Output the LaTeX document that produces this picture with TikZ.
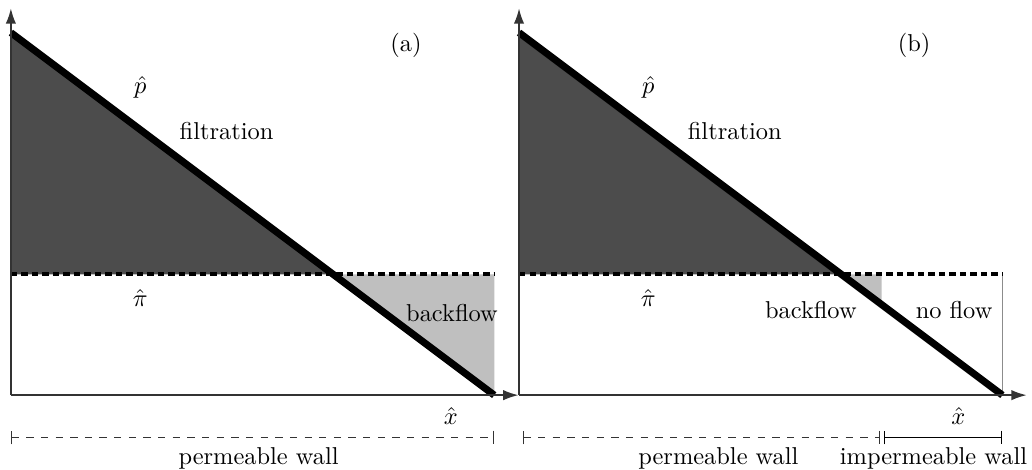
\documentclass[tikz,border=0pt]{standalone}
\usetikzlibrary{arrows.meta, calc}
\begin{document}
\begin{tikzpicture}[
    x=0.87cm, y=0.87cm,
    font=\normalsize,
    % Estilos de los ejes y curvas
    axis/.style={-{Latex[length=2.2mm,width=1.5mm]}, semithick, black!80},
    pline/.style={line width=2.9pt, black},
    piline/.style={line width=1.6pt, dash pattern=on 2.6pt off 1.7pt, black},
    filtfill/.style={fill=black!70},
    backfill/.style={fill=black!25},
    % Estilos de las barras de pared
    permbar/.style={{Bar[width=2mm]}-{Bar[width=2mm]}, dashed, thin, black!80},
    impbar/.style={{Bar[width=2mm]}-{Bar[width=2mm]}, semithick}
]
\useasboundingbox (-0.18,-1.225) rectangle (16.9,6.54);

% -- Panel (a) --
\coordinate (oa) at (0,0);
\coordinate (pa) at (0,6);
\coordinate (ea) at (8,0);
\coordinate (ia) at (5.333,2);
\fill[filtfill] (pa) -- (ia) -- (0,2) -- cycle;
\fill[backfill] (ia) -- (8,2) -- (ea) -- cycle;
\draw[piline] (0,2) -- (8,2);
\draw[pline] (pa) -- (ea);
\draw[axis] (oa) -- (0,6.4);
\draw[axis] (oa) -- (8.4,0);

\node (laba) at (6.54,5.79) {(a)};
\node (pha) at (2.14,5.10) {$\hat{p}$};
\node (fila) at (3.57,4.37) {filtration};
\node (pia) at (2.14,1.61) {$\hat{\pi}$};
\node (bfa) at (7.30,1.36) {backflow};
\node (xa) at (7.28,-0.35) {$\hat{x}$};

\coordinate (wa0) at (0,-0.70);
\coordinate (wa1) at (8,-0.70);
\draw[permbar] (wa0) -- (wa1);
\node (pwa) at (4.1,-1.04) {permeable wall};

% -- Panel (b) --
\begin{scope}[shift={(8.41,0)}]
\coordinate (ob) at (0,0);
\coordinate (pb) at (0,6);
\coordinate (eb) at (8,0);
\coordinate (ib) at (5.333,2);
\fill[filtfill] (pb) -- (ib) -- (0,2) -- cycle;
\fill[backfill] (ib) -- (6,2) -- (6,1.5) -- cycle;
\draw[thin, black!45] (8,2) -- (eb);
\draw[piline] (0,2) -- (8,2);
\draw[pline] (pb) -- (eb);
\draw[axis] (ob) -- (0,6.4);
\draw[axis] (ob) -- (8.4,0);

\node (labb) at (6.54,5.79) {(b)};
\node (phb) at (2.14,5.10) {$\hat{p}$};
\node (filb) at (3.57,4.37) {filtration};
\node (pib) at (2.14,1.61) {$\hat{\pi}$};
\node (bfb) at (4.83,1.41) {backflow};
\node (nfb) at (7.20,1.41) {no flow};
\node (xb) at (7.27,-0.35) {$\hat{x}$};

\coordinate (wb0) at (0.06,-0.70);
\coordinate (wb1) at (5.98,-0.70);
\coordinate (wb2) at (6.04,-0.70);
\coordinate (wb3) at (8,-0.70);
\draw[permbar] (wb0) -- (wb1);
\draw[impbar] (wb2) -- (wb3);
\node (pwb) at (3.3,-1.04) {permeable wall};
\node (iwb) at (6.86,-1.04) {impermeable wall};
\end{scope}

\end{tikzpicture}
\end{document}
